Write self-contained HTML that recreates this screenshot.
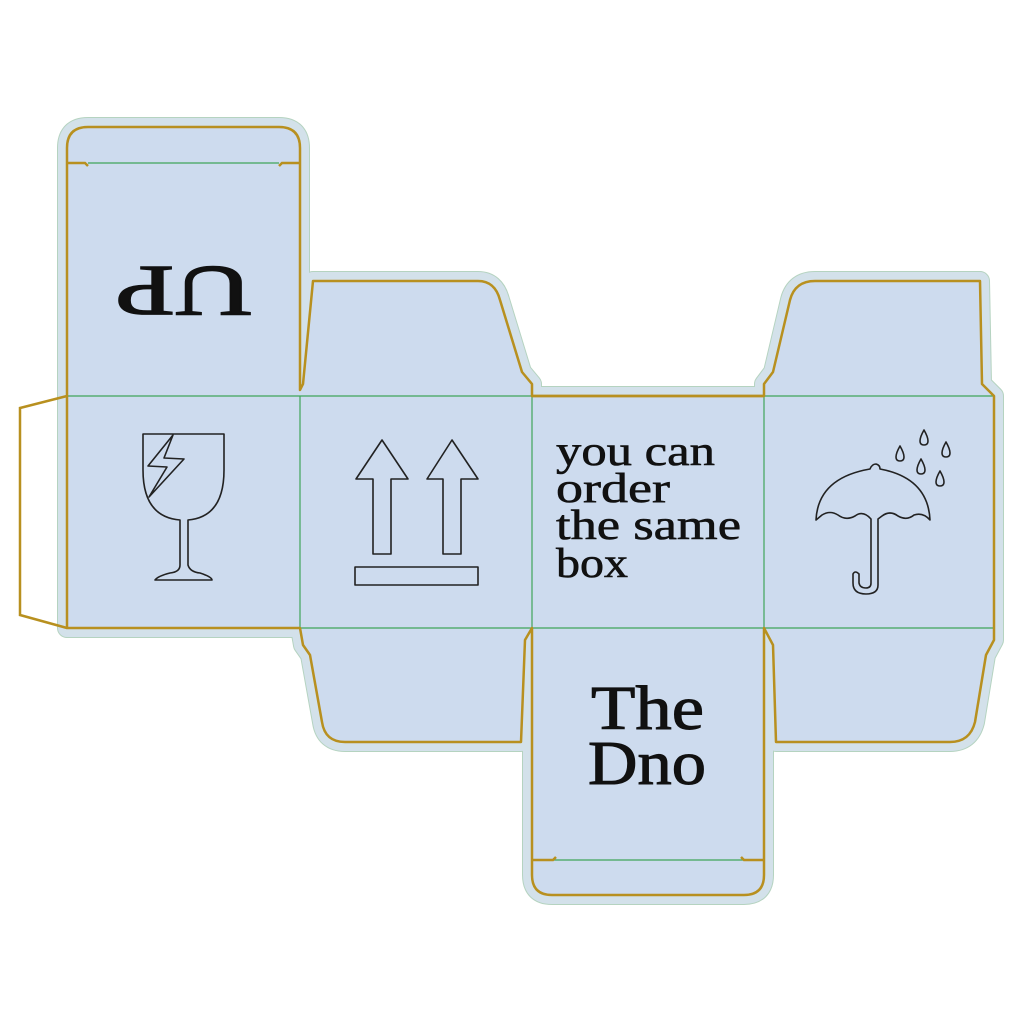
<!DOCTYPE html>
<html><head><meta charset="utf-8"><style>html,body{margin:0;padding:0;background:#fff}svg{display:block}</style></head>
<body>
<svg width="1024" height="1025" viewBox="0 0 1024 1025" xmlns="http://www.w3.org/2000/svg">
<defs>
<path id="cut" d="M67,396 L67,148 Q67,127 88,127 L279,127 Q300,127 300,148 L300,390 L303,384 L313,281 L478,281 Q495,281 500,300 L522,372 L532,384 L532,396 L764,396 L764,384 L773,372 L790,300 Q795,281 815,281 L980,281 L982,384 L994,396 L994,640 L986,655 L975,722 Q970,742 950,742 L776,742 L773,645 L764,628 L764,875 Q764,895 744,895 L552,895 Q532,895 532,875 L532,628 L525,640 L521,742 L345,742 Q325,742 322,722 L310,655 L303,645 L300,628 L67,628 Z"/>
</defs>
<use href="#cut" fill="none" stroke="#b5d3c0" stroke-width="20" stroke-linejoin="round"/>
<use href="#cut" fill="#d3e1ea" stroke="#d3e1ea" stroke-width="18" stroke-linejoin="round"/>
<use href="#cut" fill="#cddbee" stroke="none"/>
<g stroke="#3fa55a" stroke-width="1.2" fill="none">
<line x1="67" y1="396" x2="994" y2="396"/>
<line x1="67" y1="628" x2="994" y2="628"/>
<line x1="300" y1="396" x2="300" y2="628"/>
<line x1="532" y1="396" x2="532" y2="628"/>
<line x1="764" y1="396" x2="764" y2="628"/>
<line x1="88" y1="163" x2="279" y2="163"/>
<line x1="553" y1="860" x2="743" y2="860"/>
</g>
<use href="#cut" fill="none" stroke="#b8901f" stroke-width="2.5" stroke-linejoin="round"/>
<g stroke="#b8901f" stroke-width="2.5" fill="none">
<polyline points="67,396 20,408 20,615 67,628"/>
<polyline points="67,163 85,163 88,166"/>
<polyline points="300,163 282,163 279,166"/>
<polyline points="532,860 553,860 556,857"/>
<polyline points="764,860 744,860 741,857"/>
<line x1="532" y1="396" x2="764" y2="396"/>
</g>
<g stroke="#222" stroke-width="1.6" fill="none" stroke-linejoin="round">
<path d="M143,434 L224,434 L224,470 Q224,517 188,520 L188,565 Q190,572 200,573 Q212,577 212,580 L155,580 Q158,576 170,573 Q180,572 180,565 L180,520 Q143,517 143,470 Z"/>
<path d="M173,435 L148,466 L167,467 L149,497 L184,459 L164,458 Z"/>
<path d="M382,440 L356,479 L373,479 L373,554 L391,554 L391,479 L408,479 Z"/>
<path d="M452,440 L427,479 L443,479 L443,554 L461,554 L461,479 L478,479 Z"/>
<rect x="355" y="567" width="123" height="18"/>
<path d="M816,520 Q818,478 870,469 Q872,464 876,464 Q880,465 880,469 Q928,478 930,520 Q923,512 914,515 Q907,521 898,516 Q890,510 882,516 L878,519 L878,585 Q878,594 866,594 Q853,594 853,583 L853,574 Q855,570 859,574 L859,583 Q860,588 866,588 Q871,588 871,583 L871,519 Q863,510 855,516 Q846,521 838,515 Q830,510 822,515 Z"/>
<path d="M900,446 Q904,453 904,457 Q904,461 900,461 Q896,461 896,457 Q896,453 900,446 Z"/>
<path d="M924,430 Q928,437 928,441 Q928,445 924,445 Q920,445 920,441 Q920,437 924,430 Z"/>
<path d="M946,442 Q950,449 950,453 Q950,457 946,457 Q942,457 942,453 Q942,449 946,442 Z"/>
<path d="M921,459 Q925,466 925,470 Q925,474 921,474 Q917,474 917,470 Q917,466 921,459 Z"/>
<path d="M940,471 Q944,478 944,482 Q944,486 940,486 Q936,486 936,482 Q936,478 940,471 Z"/>
</g>
<g font-family="'Liberation Serif', serif" fill="#111" stroke="#111" stroke-width="0.6">
<text x="556" y="465" font-size="42" textLength="159" lengthAdjust="spacingAndGlyphs">you can</text>
<text x="556" y="502" font-size="42" textLength="114" lengthAdjust="spacingAndGlyphs">order</text>
<text x="556" y="539" font-size="42" textLength="185" lengthAdjust="spacingAndGlyphs">the same</text>
<text x="556" y="577" font-size="42" textLength="72" lengthAdjust="spacingAndGlyphs">box</text>
<text x="591" y="729" font-size="62" textLength="113" lengthAdjust="spacingAndGlyphs" stroke-width="1">The</text>
<text x="588" y="784" font-size="62" textLength="118" lengthAdjust="spacingAndGlyphs" stroke-width="1">Dno</text>
<text x="0" y="0" font-size="72" textLength="137" lengthAdjust="spacingAndGlyphs" stroke-width="1.5" transform="translate(252,267) rotate(180)">UP</text>
</g>
</svg>
</body></html>
